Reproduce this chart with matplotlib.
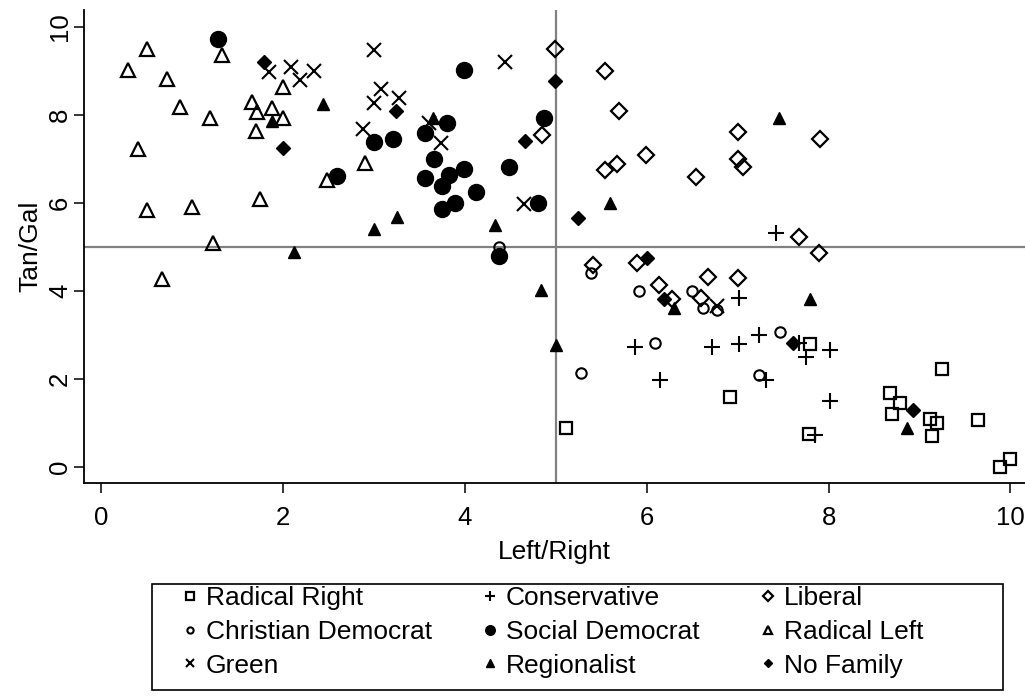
import matplotlib.pyplot as plt
from matplotlib.patches import Rectangle

plt.rcParams['font.family'] = ['Liberation Sans', 'DejaVu Sans']

# party positions (left/right, tan/gal) per family
rr_x = [5.11, 6.91, 7.80, 7.78, 9.25, 8.67, 8.78, 8.70, 9.11, 9.19, 9.14, 9.64, 10.0, 9.88]
rr_y = [0.88, 1.59, 2.78, 0.74, 2.21, 1.66, 1.45, 1.19, 1.07, 1.00, 0.69, 1.06, 0.16, 0.00]

con_x = [7.42, 7.01, 5.87, 6.72, 7.01, 7.23, 6.14, 7.31, 7.67, 7.75, 8.01, 8.01, 7.85]
con_y = [5.30, 3.84, 2.72, 2.71, 2.78, 2.99, 1.97, 1.97, 2.80, 2.50, 2.65, 1.49, 0.72]

lib_x = [4.99, 5.54, 5.69, 5.99, 5.54, 5.67, 6.54, 7.00, 7.00, 7.06, 7.90, 7.67, 4.85, 7.89,
         5.41, 5.89, 6.13, 6.28, 6.67, 7.00, 6.60]
lib_y = [9.48, 9.00, 8.09, 7.08, 6.74, 6.87, 6.59, 7.60, 6.98, 6.80, 7.44, 5.21, 7.53, 4.85,
         4.58, 4.62, 4.13, 3.80, 4.31, 4.29, 3.82]

cd_x = [4.38, 5.39, 5.91, 6.50, 6.62, 6.77, 6.09, 5.28, 7.47, 7.23]
cd_y = [5.00, 4.39, 3.99, 4.00, 3.60, 3.56, 2.80, 2.13, 3.05, 2.08]

sd_x = [1.28, 2.59, 3.00, 3.21, 3.80, 3.56, 3.66, 3.56, 3.83, 3.75, 3.99, 3.75, 3.89, 4.12,
        4.49, 4.87, 4.80, 3.99, 4.38]
sd_y = [9.72, 6.60, 7.38, 7.44, 7.81, 7.57, 6.98, 6.55, 6.63, 6.38, 6.76, 5.85, 5.98, 6.25,
        6.81, 7.91, 5.98, 9.01, 4.78]

rl_x = [0.50, 0.29, 0.72, 0.87, 1.20, 1.33, 0.40, 0.50, 1.00, 1.23, 1.75, 1.66, 1.71, 1.70,
        1.88, 2.00, 2.00, 2.48, 0.67, 2.90]
rl_y = [9.50, 9.01, 8.81, 8.16, 7.91, 9.35, 7.21, 5.83, 5.89, 5.07, 6.09, 8.28, 8.05, 7.62,
        8.14, 7.91, 8.62, 6.51, 4.26, 6.90]

gr_x = [1.85, 2.09, 2.19, 2.34, 3.00, 3.08, 3.00, 3.28, 2.88, 3.61, 3.74, 4.44, 4.65, 6.77]
gr_y = [8.97, 9.09, 8.78, 8.99, 9.47, 8.57, 8.27, 8.37, 7.66, 7.81, 7.35, 9.20, 5.97, 3.65]

reg_x = [2.12, 2.44, 1.88, 3.00, 3.25, 4.33, 3.65, 7.45, 5.59, 4.84, 5.00, 6.30, 7.80, 8.86]
reg_y = [4.88, 8.24, 7.86, 5.39, 5.66, 5.49, 7.91, 7.91, 6.00, 4.01, 2.76, 3.60, 3.80, 0.87]

nf_x = [1.79, 2.00, 3.24, 4.99, 4.66, 5.24, 6.00, 6.19, 7.61, 8.93]
nf_y = [9.20, 7.23, 8.08, 8.76, 7.40, 5.64, 4.73, 3.80, 2.80, 1.28]

W, H = 1025, 697
fig = plt.figure(figsize=(W / 100, H / 100), dpi=100)
ax = fig.add_axes([84 / W, 1 - 483 / H, 1 - 84 / W, 473 / H])

ax.axvline(5, color='#808080', lw=1.6, zorder=1)
ax.axhline(5, color='#808080', lw=1.6, zorder=1)

k = dict(ls='none', color='black', zorder=3)
h_rr, = ax.plot(rr_x, rr_y, marker='s', ms=8.5, mfc='none', mew=1.6, label='Radical Right', **k)
h_con, = ax.plot(con_x, con_y, marker='+', ms=11, mew=1.5, label='Conservative', **k)
h_lib, = ax.plot(lib_x, lib_y, marker='D', ms=8.2, mfc='none', mew=1.6, label='Liberal', **k)
h_cd, = ax.plot(cd_x, cd_y, marker='o', ms=7.5, mfc='none', mew=1.5, label='Christian Democrat', **k)
h_sd, = ax.plot(sd_x, sd_y, marker='o', ms=11.5, label='Social Democrat', **k)
h_rl, = ax.plot(rl_x, rl_y, marker='^', ms=9.5, mfc='none', mew=1.6, label='Radical Left', **k)
h_gr, = ax.plot(gr_x, gr_y, marker='x', ms=9.5, mew=1.5, label='Green', **k)
h_reg, = ax.plot(reg_x, reg_y, marker='^', ms=8.5, label='Regionalist', **k)
h_nf, = ax.plot(nf_x, nf_y, marker='D', ms=7, label='No Family', **k)

ax.set_xlim(-0.19, 10.16)
ax.set_ylim(-0.375, 10.375)
ax.set_xticks([0, 2, 4, 6, 8, 10])
ax.set_yticks([0, 2, 4, 6, 8, 10])
ax.spines['top'].set_visible(False)
ax.spines['right'].set_visible(False)
for s in ['left', 'bottom']:
    ax.spines[s].set_linewidth(1.3)
ax.tick_params(direction='out', length=7.5, width=1.1, labelsize=18.5)
ax.tick_params(axis='x', pad=9)
ax.tick_params(axis='y', pad=1)
plt.setp(ax.get_yticklabels(), rotation=90, va='center')
ax.set_xlabel('Left/Right', fontsize=19, labelpad=7)
ax.set_ylabel('Tan/Gal', fontsize=19, labelpad=4)

# legend: one block per column, framed by a single box
cols = [[h_rr, h_cd, h_gr], [h_con, h_sd, h_reg], [h_lib, h_rl, h_nf]]
col_x = [182, 482, 760]
for hs, cx in zip(cols, col_x):
    fig.legend(handles=hs, loc='upper left', bbox_to_anchor=(cx / W, 1 - 586 / H),
               fontsize=19, markerscale=0.6, frameon=False, handlelength=0.6,
               handletextpad=0.3, labelspacing=0.37, borderpad=0, borderaxespad=0)
fig.patches.append(Rectangle((152 / W, 1 - 690 / H), (1003 - 152) / W, (690 - 584) / H,
                             transform=fig.transFigure, fill=False, ec='black', lw=1.2))

fig.savefig('out.png', dpi=100)
